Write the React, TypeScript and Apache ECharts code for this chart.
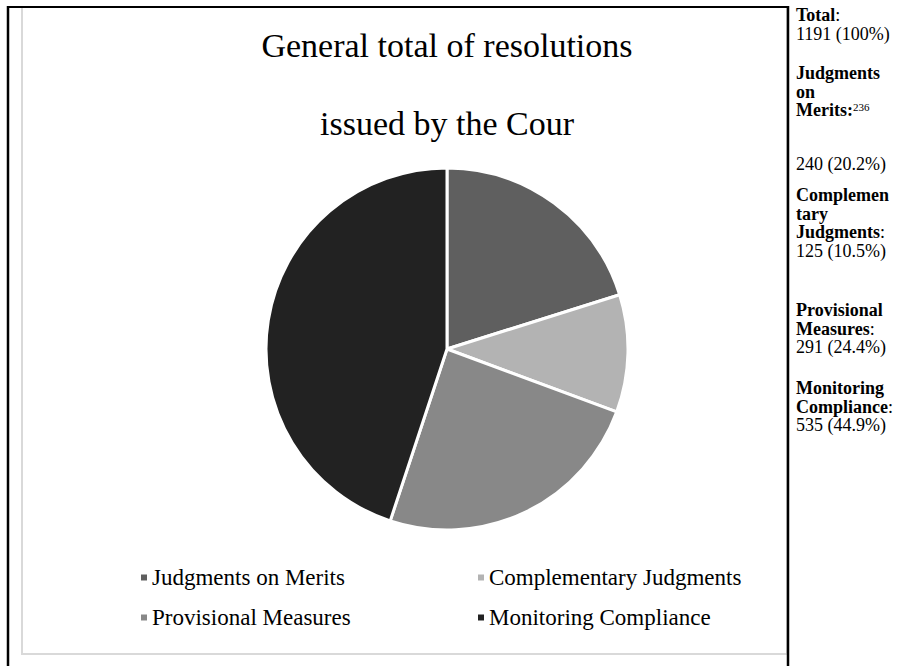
import React, { useEffect, useRef } from "react";
import * as echarts from "echarts";

const categories = ["Judgments on Merits", "Complementary Judgments", "Provisional Measures", "Monitoring Compliance"];
const values = [240, 125, 291, 535];
const percents = ["20.2%", "10.5%", "24.4%", "44.9%"];
const colors = ["#5f5f5f", "#b3b3b3", "#888888", "#222222"];
const total = 1191;
const titleLines = ["General total of resolutions", "issued by the Cour"];

const SERIF = "'Liberation Serif', 'Times New Roman', serif";

export default function App() {
  const ref = useRef<HTMLDivElement>(null);
  useEffect(() => {
    if (!ref.current) return;
    const chart = echarts.init(ref.current, undefined, { renderer: "svg" });

    const LH = 18.7;
    // side column blocks: first line centre y, lines of [text, style] segments
    const side: { y: number; lines: [string, string][][] }[] = [
      { y: 15, lines: [[["Total", "b"], [":", "r"]], [[`${total} (100%)`, "r"]]] },
      { y: 73, lines: [[["Judgments", "b"]], [["on", "b"]], [["Merits:", "b"], ["236", "sup"]]] },
      { y: 164, lines: [[[`${values[0]} (${percents[0]})`, "r"]]] },
      {
        y: 195,
        lines: [[["Complemen", "b"]], [["tary", "b"]], [["Judgments", "b"], [":", "r"]], [[`${values[1]} (${percents[1]})`, "r"]]],
      },
      { y: 310, lines: [[["Provisional", "b"]], [["Measures", "b"], [":", "r"]], [[`${values[2]} (${percents[2]})`, "r"]]] },
      { y: 388, lines: [[["Monitoring", "b"]], [["Compliance", "b"], [":", "r"]], [[`${values[3]} (${percents[3]})`, "r"]]] },
    ];

    const sideGraphics = side.map((blk) => ({
      type: "text",
      x: 796,
      y: blk.y - LH / 2,
      style: {
        text: blk.lines.map((ln) => ln.map(([t, s]) => `{${s}|${t}}`).join("")).join("\n"),
        textVerticalAlign: "top",
        verticalAlign: "top",
        rich: {
          b: { fontFamily: SERIF, fontSize: 18, lineHeight: LH, fontWeight: "bold", fill: "#000", color: "#000" },
          r: { fontFamily: SERIF, fontSize: 18, lineHeight: LH, fill: "#000", color: "#000" },
          sup: { fontFamily: SERIF, fontSize: 11, lineHeight: LH, fill: "#000", color: "#000", verticalAlign: "top", padding: [0, 0, 0, 0] },
        },
      },
    }));

    const legendPos = [
      { left: 139, top: 566 },
      { left: 476, top: 566 },
      { left: 139, top: 606 },
      { left: 476, top: 606 },
    ];

    chart.setOption({
      animation: false,
      backgroundColor: "#ffffff",
      color: colors,
      legend: categories.map((c, i) => ({
        data: [c],
        left: legendPos[i].left,
        top: legendPos[i].top,
        padding: 0,
        icon: "rect",
        itemWidth: 8,
        itemHeight: 8,
        itemGap: 0,
        selectedMode: false,
        textStyle: { fontFamily: SERIF, fontSize: 23, color: "#000", padding: [0, 0, 0, -1] },
      })),
      series: [
        {
          type: "pie",
          center: [447, 349],
          radius: 181,
          startAngle: 90,
          clockwise: true,
          label: { show: false },
          labelLine: { show: false },
          emphasis: { disabled: true },
          itemStyle: { borderColor: "#ffffff", borderWidth: 3 },
          data: categories.map((c, i) => ({ name: c, value: values[i], itemStyle: { color: colors[i] } })),
        },
      ],
      graphic: [
        { type: "rect", shape: { x: 22, y: 7, width: 765, height: 647 }, style: { fill: "none", stroke: "#d9d9d9", lineWidth: 2 } },
        { type: "line", shape: { x1: 8, y1: 6, x2: 8, y2: 666 }, style: { stroke: "#000", lineWidth: 2.5 } },
        { type: "line", shape: { x1: 7, y1: 7, x2: 789, y2: 7 }, style: { stroke: "#000", lineWidth: 2 } },
        { type: "line", shape: { x1: 788, y1: 6, x2: 788, y2: 666 }, style: { stroke: "#000", lineWidth: 2.5 } },
        ...titleLines.map((t, i) => ({
          type: "text",
          x: 447,
          y: 45 + i * 78,
          style: {
            text: t,
            fontFamily: SERIF,
            fontSize: 34,
            fill: "#000",
            textAlign: "center",
            textVerticalAlign: "middle",
            align: "center",
            verticalAlign: "middle",
          },
        })),
        ...sideGraphics,
      ],
    });
    return () => chart.dispose();
  }, []);
  return <div ref={ref} style={{ position: "absolute", left: 0, top: 0, width: 919, height: 666 }} />;
}
